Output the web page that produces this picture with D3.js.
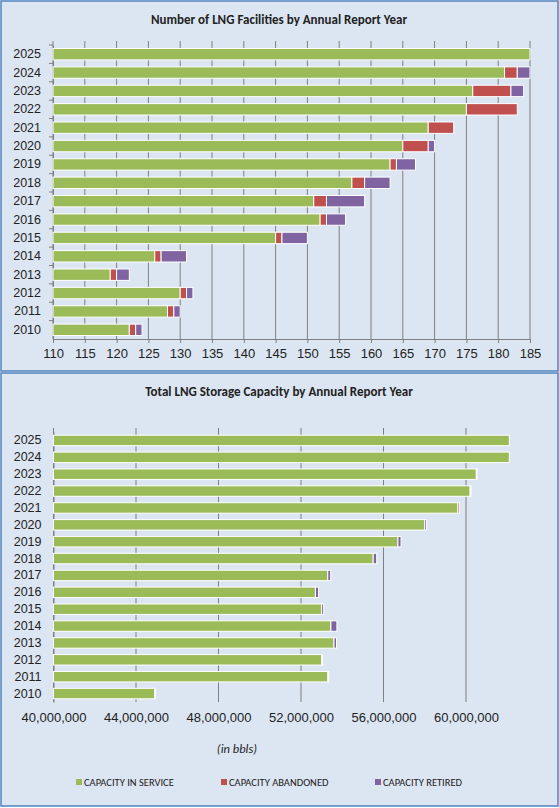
<!DOCTYPE html>
<html><head><meta charset="utf-8">
<script src="https://cdn.jsdelivr.net/npm/d3@7"></script>
<style>
body{margin:0;background:#fff;font-family:Calibri,Carlito,"Liberation Sans",Arial,sans-serif;}
</style></head><body>
<svg id="chart" width="559" height="808"></svg>
<script>
var years = [2010,2011,2012,2013,2014,2015,2016,2017,2018,2019,2020,2021,2022,2023,2024,2025];
// facilities
var facService   = [122,128,130,119,126,145,152,151,157,163,165,169,175,176,181,185];
var facAbandoned = [1,1,1,1,1,1,1,2,2,1,4,4,8,6,2,0];
var facRetired   = [1,1,1,2,4,4,3,6,4,3,1,0,0,2,2,0];
// storage capacity (bbls)
var capService   = [44.9e6,53.3e6,53.0e6,53.6e6,53.45e6,53.0e6,52.7e6,53.3e6,55.5e6,56.7e6,58.0e6,59.6e6,60.2e6,60.5e6,62.1e6,62.1e6];
var capAbandoned = [0,0,0,0,0,0,0,0,0,0,0,0.07e6,0,0,0,0];
var capRetired   = [0.02e6,0.03e6,0.03e6,0.12e6,0.29e6,0.1e6,0.15e6,0.14e6,0.17e6,0.15e6,0.09e6,0,0.02e6,0.03e6,0,0];
var facTicks = d3.range(110,186,5);
var capTicks = [40e6,44e6,48e6,52e6,56e6,60e6];
var seriesNames = ["CAPACITY IN SERVICE","CAPACITY ABANDONED","CAPACITY RETIRED"];
var colors = ["#9bbb59","#c0504d","#8064a2"];

var svg = d3.select("#chart");
svg.append("rect").attr("x",1).attr("y",1).attr("width",557).attr("height",370).attr("fill","#dce6f2").attr("stroke","#4f81bd").attr("stroke-width",1.5);
svg.append("rect").attr("x",1).attr("y",373).attr("width",557).attr("height",433).attr("fill","#dce6f2").attr("stroke","#4f81bd").attr("stroke-width",1.5);

function drawChart(opt){
	var g = svg.append("g");
	g.append("text").attr("x",279).attr("y",opt.titleY).attr("text-anchor","middle")
		.attr("font-weight","bold").attr("font-size",13).attr("fill","#222").text(opt.title);
	var x = d3.scaleLinear().domain(opt.domain).range([opt.x0,opt.x1]);
	var y = d3.scaleBand().domain(years.slice().reverse()).range([opt.y0,opt.y1]).paddingInner(opt.pad).paddingOuter(opt.pad/2);
	g.selectAll(".grid").data(opt.ticks).enter().append("line")
		.attr("x1",d=>x(d)).attr("x2",d=>x(d)).attr("y1",opt.y0-4).attr("y2",opt.y1)
		.attr("stroke","#7f7f7f").attr("stroke-width",1);
	var ax = g.append("g").attr("transform","translate(0,"+opt.y1+")")
		.call(d3.axisBottom(x).tickValues(opt.ticks).tickSize(opt.showDomain?4:0).tickFormat(opt.fmt));
	ax.select(".domain").attr("stroke",opt.showDomain?"#7f7f7f":"none");
	ax.selectAll("line").attr("stroke","#7f7f7f");
	ax.selectAll("text").attr("font-size",opt.tickFs).attr("fill","#222").attr("dy",opt.tickDy).attr("font-family","inherit");
	var ay = g.append("g").attr("transform","translate("+opt.x0+",0)")
		.call(d3.axisLeft(y).tickSize(0).tickPadding(12));
	ay.select(".domain").attr("stroke","#7f7f7f");
	ay.selectAll("text").attr("font-size",12.5).attr("fill","#222").attr("font-family","inherit");
	if(opt.showDomain){
		g.selectAll(".sep").data(years).enter().append("line")
			.attr("x1",opt.x0-4).attr("x2",opt.x0).attr("y1",d=>y(d)-y.step()*y.paddingInner()/2).attr("y2",d=>y(d)-y.step()*y.paddingInner()/2)
			.attr("stroke","#7f7f7f");
	}
	years.forEach((yr,i)=>{
		var a = opt.series[0][i], b = opt.series[1][i], c = opt.series[2][i];
		[[opt.domain[0],a],[a,a+b],[a+b,a+b+c]].forEach((s,k)=>{
			if(s[1]-s[0] <= 0) return;
			g.append("rect").attr("x",x(s[0])).attr("y",y(yr)).attr("width",Math.max(1,x(s[1])-x(s[0])))
				.attr("height",y.bandwidth()).attr("fill",colors[k]).attr("stroke","#fff").attr("stroke-width",1);
		});
	});
	return g;
}

drawChart({title:"Number of LNG Facilities by Annual Report Year",titleY:24,domain:[110,185],x0:53,x1:530,y0:45,y1:339,
	pad:0.38,ticks:facTicks,fmt:d3.format("d"),tickFs:13,tickDy:"0.9em",showDomain:true,series:[facService,facAbandoned,facRetired]});

drawChart({title:"Total LNG Storage Capacity by Annual Report Year",titleY:396,domain:[40e6,64e6],x0:53.5,x1:548.5,y0:432,y1:702,
	pad:0.38,ticks:capTicks,fmt:d3.format(","),tickFs:13,tickDy:"1.3em",showDomain:false,series:[capService,capAbandoned,capRetired]});

svg.append("text").attr("x",237).attr("y",753).attr("text-anchor","middle").attr("font-style","italic")
	.attr("font-size",12.5).attr("fill","#222").text("(in bbls)");

var legX = [76,221,375];
seriesNames.forEach((n,k)=>{
	svg.append("rect").attr("x",legX[k]).attr("y",779).attr("width",6).attr("height",6).attr("fill",colors[k]);
	svg.append("text").attr("x",legX[k]+8).attr("y",786).attr("font-size",10.5).attr("fill","#222").text(n);
});
</script></body></html>
